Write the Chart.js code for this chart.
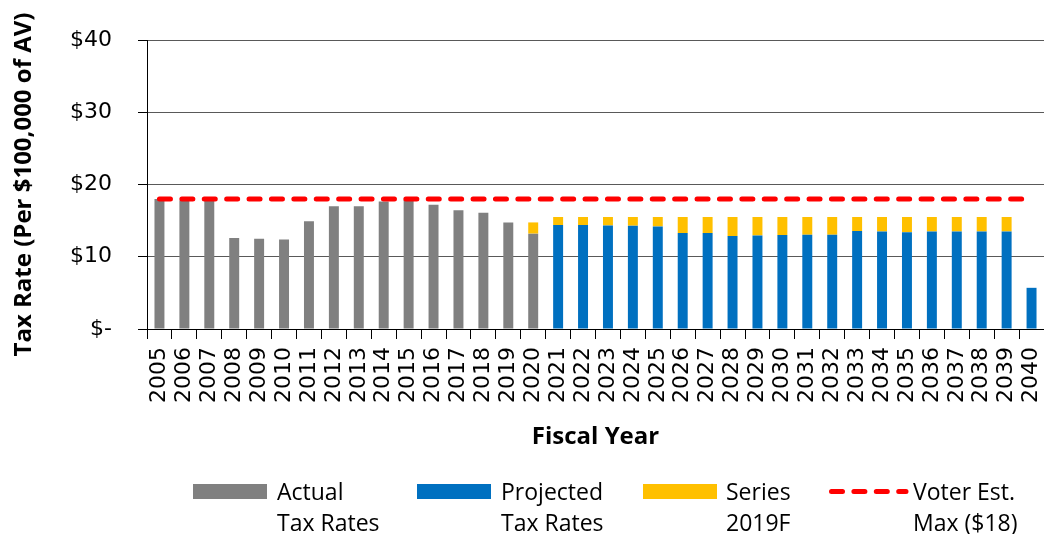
<!DOCTYPE html>
<html>
<head>
<meta charset="utf-8">
<script src="https://cdn.jsdelivr.net/npm/chart.js@4.4.1/dist/chart.umd.min.js"></script>
<style>
  body { margin: 0; background: #fff; }
  #wrap { position: relative; width: 1044px; height: 534px; }
  .legItem { position: absolute; top: 476px; font-family: "Open Sans", sans-serif; font-size: 23px; line-height: 31px; color: #000; white-space: pre-line; }
  .legBox { position: absolute; top: 484px; width: 74px; height: 15px; }
</style>
</head>
<body>
<div id="wrap">
  <canvas id="taxChart"></canvas>
  <div id="legend"></div>
</div>
<script>
// fiscal years
const years = ["2005","2006","2007","2008","2009","2010","2011","2012","2013","2014","2015","2016","2017","2018","2019","2020",
  "2021","2022","2023","2024","2025","2026","2027","2028","2029","2030","2031","2032","2033","2034","2035","2036","2037","2038","2039","2040"];

// actual tax rates 2005-2020
const actualRates = [18.0, 17.8, 17.8, 12.6, 12.5, 12.4, 14.9, 17.0, 17.0, 17.65, 17.9, 17.2, 16.45, 16.1, 14.75, 13.2,
  null, null, null, null, null, null, null, null, null, null, null, null, null, null, null, null, null, null, null, null];

// projected tax rates 2021-2040
const projectedRates = [null, null, null, null, null, null, null, null, null, null, null, null, null, null, null, null,
  14.38, 14.38, 14.33, 14.3, 14.2, 13.27, 13.27, 12.86, 12.95, 13.0, 13.05, 13.05, 13.55, 13.5, 13.4, 13.5, 13.5, 13.5, 13.5, 5.7];

// Series 2019F (stacked on top)
const series2019F = [null, null, null, null, null, null, null, null, null, null, null, null, null, null, null, 1.55,
  1.12, 1.12, 1.17, 1.2, 1.3, 2.23, 2.23, 2.64, 2.55, 2.5, 2.45, 2.45, 1.95, 2.0, 2.1, 2.0, 2.0, 2.0, 2.0, null];

// voter established max
const voterMax = [18, 18, 18, 18, 18, 18, 18, 18, 18, 18, 18, 18, 18, 18, 18, 18, 18, 18,
  18, 18, 18, 18, 18, 18, 18, 18, 18, 18, 18, 18, 18, 18, 18, 18, 18, 18];

const yTicks = [0, 10, 20, 30, 40];

const gray = "#808080", blue = "#0070C0", yellow = "#FFC000", red = "#FF0000";

const ctx = document.getElementById("taxChart").getContext("2d");
const chart = new Chart(ctx, {
  type: "bar",
  data: {
    labels: years,
    datasets: [
      { label: "Actual\nTax Rates", data: actualRates, backgroundColor: gray, order: 1 },
      { label: "Projected\nTax Rates", data: projectedRates, backgroundColor: blue, order: 1 },
      { label: "Series\n2019F", data: series2019F, backgroundColor: yellow, order: 1 },
      {
        type: "line",
        label: "Voter Est.\nMax ($18)",
        data: voterMax,
        borderColor: red,
        borderWidth: 5,
        borderDash: [11, 11.4],
        borderCapStyle: "round",
        pointRadius: 0,
        fill: false,
        order: 0
      }
    ]
  },
  options: {
    responsive: true,
    maintainAspectRatio: false,
    animation: false,
    layout: { padding: { top: 40, right: 0, left: 0, bottom: 82 } },
    datasets: { bar: { barPercentage: 0.4, categoryPercentage: 1 } },
    plugins: { legend: { display: false }, tooltip: { enabled: false } },
    scales: {
      x: {
        stacked: true,
        grid: { display: true, drawOnChartArea: false, offset: true, tickLength: 10, tickColor: "#000", color: "#000" },
        border: { color: "#000", width: 1 },
        ticks: {
          autoSkip: false, minRotation: 90, maxRotation: 90, padding: 8, color: "#000",
          font: { family: "DejaVu Sans", size: 22 }
        },
        title: {
          display: true, text: "Fiscal Year", color: "#000",
          font: { family: "Open Sans", size: 24, weight: "bold", lineHeight: 1.2 },
          padding: { top: 0, bottom: 0 }
        },
        afterFit: function (scale) {
          scale.height = 123;
          // let the last bar run to the right edge like the original
          scale.paddingRight = 0;
          scale.paddingLeft = 0;
        }
      },
      y: {
        stacked: true,
        min: 0,
        max: 40,
        afterBuildTicks: function (scale) { scale.ticks = yTicks.map(v => ({ value: v })); },
        grid: { color: "#595959", tickLength: 9, tickColor: "#000" },
        border: { color: "#000", width: 1 },
        ticks: {
          padding: 26, color: "#000",
          font: { family: "DejaVu Sans", size: 22 },
          callback: function (v) { return v === 0 ? "$-" : "$" + v; }
        },
        title: {
          display: true, text: "Tax Rate (Per $100,000 of AV)", color: "#000",
          font: { family: "Open Sans", size: 24, weight: "bold", lineHeight: 1.2 },
          padding: { top: 10, bottom: 0 }
        },
        afterFit: function (scale) { scale.width = 147; }
      }
    }
  }
});

// legend laid out like the spreadsheet one, two lines per entry
const legendPos = [
  { box: 193, text: 277 },
  { box: 417, text: 501 },
  { box: 643, text: 726 },
  { box: 829, text: 913 }
];
const legend = document.getElementById("legend");
chart.data.datasets.forEach(function (ds, i) {
  const p = legendPos[i];
  let mark;
  if (ds.type === "line") {
    mark = document.createElementNS("http://www.w3.org/2000/svg", "svg");
    mark.setAttribute("width", "80");
    mark.setAttribute("height", "15");
    mark.style.position = "absolute";
    mark.style.left = p.box + "px";
    mark.style.top = "484px";
    mark.innerHTML = '<line x1="2.5" y1="7.5" x2="77" y2="7.5" stroke="' + ds.borderColor +
      '" stroke-width="5" stroke-linecap="round" stroke-dasharray="11 11.4"/>';
  } else {
    mark = document.createElement("div");
    mark.className = "legBox";
    mark.style.left = p.box + "px";
    mark.style.background = ds.backgroundColor;
  }
  legend.appendChild(mark);
  const t = document.createElement("div");
  t.className = "legItem";
  t.style.left = p.text + "px";
  t.textContent = ds.label;
  legend.appendChild(t);
});
</script>
</body>
</html>
